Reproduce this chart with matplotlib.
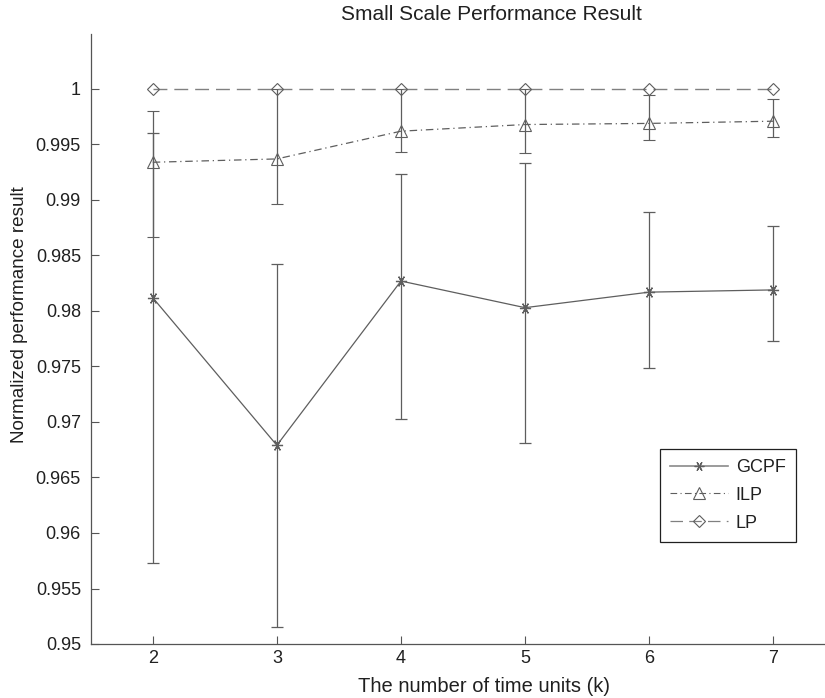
import numpy as np
import matplotlib
matplotlib.use("Agg")
import matplotlib.pyplot as plt
from matplotlib.lines import Line2D
from matplotlib.ticker import FormatStrFormatter

plt.rcParams["font.family"] = ["Liberation Sans", "DejaVu Sans"]

# ---------------------------------------------------------------------------
# data: normalized result per number of time units, with min/max ranges
# ---------------------------------------------------------------------------
k = [2, 3, 4, 5, 6, 7]

gcpf    = [0.9812, 0.9679, 0.9827, 0.9803, 0.9817, 0.9819]
gcpf_lo = [0.9573, 0.9515, 0.9703, 0.9681, 0.9749, 0.9773]
gcpf_hi = [0.9960, 0.9842, 0.9923, 0.9933, 0.9889, 0.9877]

ilp    = [0.9934, 0.9937, 0.9962, 0.9968, 0.9969, 0.9971]
ilp_lo = [0.9867, 0.9896, 0.9943, 0.9942, 0.9954, 0.9957]
ilp_hi = [0.9980, 1.0000, 1.0000, 1.0000, 0.9995, 0.9991]

lp = [1.0, 1.0, 1.0, 1.0, 1.0, 1.0]

yticks = [0.95, 0.955, 0.96, 0.965, 0.97, 0.975, 0.98, 0.985, 0.99, 0.995, 1.0]

LINE  = "#5e5e5e"
LIGHT = "#808080"
TEXT  = "#202020"

W, H = 825, 698
fig = plt.figure(figsize=(W / 100, H / 100), dpi=100)
ax = fig.add_axes([90.7 / W, 1 - 644 / H, (835.3 - 90.7) / W, (644 - 33.5) / H])

def yerr(y, lo, hi):
    y, lo, hi = map(np.asarray, (y, lo, hi))
    return [y - lo, hi - y]

asterisk = (6, 2, 90)
DASHDOT = (0, (6, 3, 1, 3))
DASHED  = (0, (10, 5))

ax.errorbar(k, gcpf, yerr=yerr(gcpf, gcpf_lo, gcpf_hi), color=LINE, lw=0.9,
            elinewidth=0.9, capsize=4.6, capthick=0.9, marker=asterisk,
            ms=8, mew=0.9)
ax.errorbar(k, ilp, yerr=yerr(ilp, ilp_lo, ilp_hi), color=LINE, lw=0.9,
            ls=DASHDOT, elinewidth=0.9, capsize=4.6, capthick=0.9,
            marker="^", ms=9, mfc="none", mew=0.8)
ax.plot(k, lp, color=LIGHT, lw=1.0, ls=DASHED, marker="D", ms=6.5,
        mfc="none", mec=LINE, mew=0.8)

ax.set_xlim(1.5, 7.5)
ax.set_ylim(0.95, 1.005)
ax.set_xticks(k)
ax.set_yticks(yticks)
ax.yaxis.set_major_formatter(FormatStrFormatter("%g"))

for side in ("top", "right"):
    ax.spines[side].set_visible(False)
for side in ("left", "bottom"):
    ax.spines[side].set_color("#555555")
    ax.spines[side].set_linewidth(0.9)
ax.tick_params(direction="in", length=5.8, width=0.8, color="#555555",
               labelsize=13, labelcolor=TEXT)
ax.tick_params(axis="y", pad=7)
ax.tick_params(axis="x", pad=4)

fig.text(491 / W, 1 - 15 / H, "Small Scale Performance Result", fontsize=15,
         color=TEXT, ha="center", va="center")
fig.text(484 / W, 1 - 686 / H, "The number of time units (k)", fontsize=14.5,
         color=TEXT, ha="center", va="center")
fig.text(20 / W, 1 - 315 / H, "Normalized performance result", fontsize=13.6,
         color=TEXT, ha="center", va="center", rotation=90)

# legend proxies (no error bars in the key)
handles = [
    Line2D([], [], color="#8a8a8a", lw=1.2, marker=asterisk, ms=7,
           mec=LINE, mew=0.9),
    Line2D([], [], color=LINE, lw=0.8, ls=DASHDOT, marker="^", ms=8,
           mfc="none", mew=0.8),
    Line2D([], [], color=LIGHT, lw=0.9, ls=DASHED, marker="D", ms=6,
           mfc="none", mec=LINE, mew=0.8),
]
leg = fig.legend(handles, ["GCPF", "ILP", "LP"], loc="upper left",
                 bbox_to_anchor=(660 / W, 1 - 449 / H), borderaxespad=0,
                 fancybox=False, framealpha=1, edgecolor="#202020",
                 fontsize=13, handlelength=3.2, handletextpad=0.45,
                 labelspacing=0.6, borderpad=0.55)
leg.get_frame().set_linewidth(0.9)
for t in leg.get_texts():
    t.set_color(TEXT)

fig.savefig("out.png", dpi=100)
